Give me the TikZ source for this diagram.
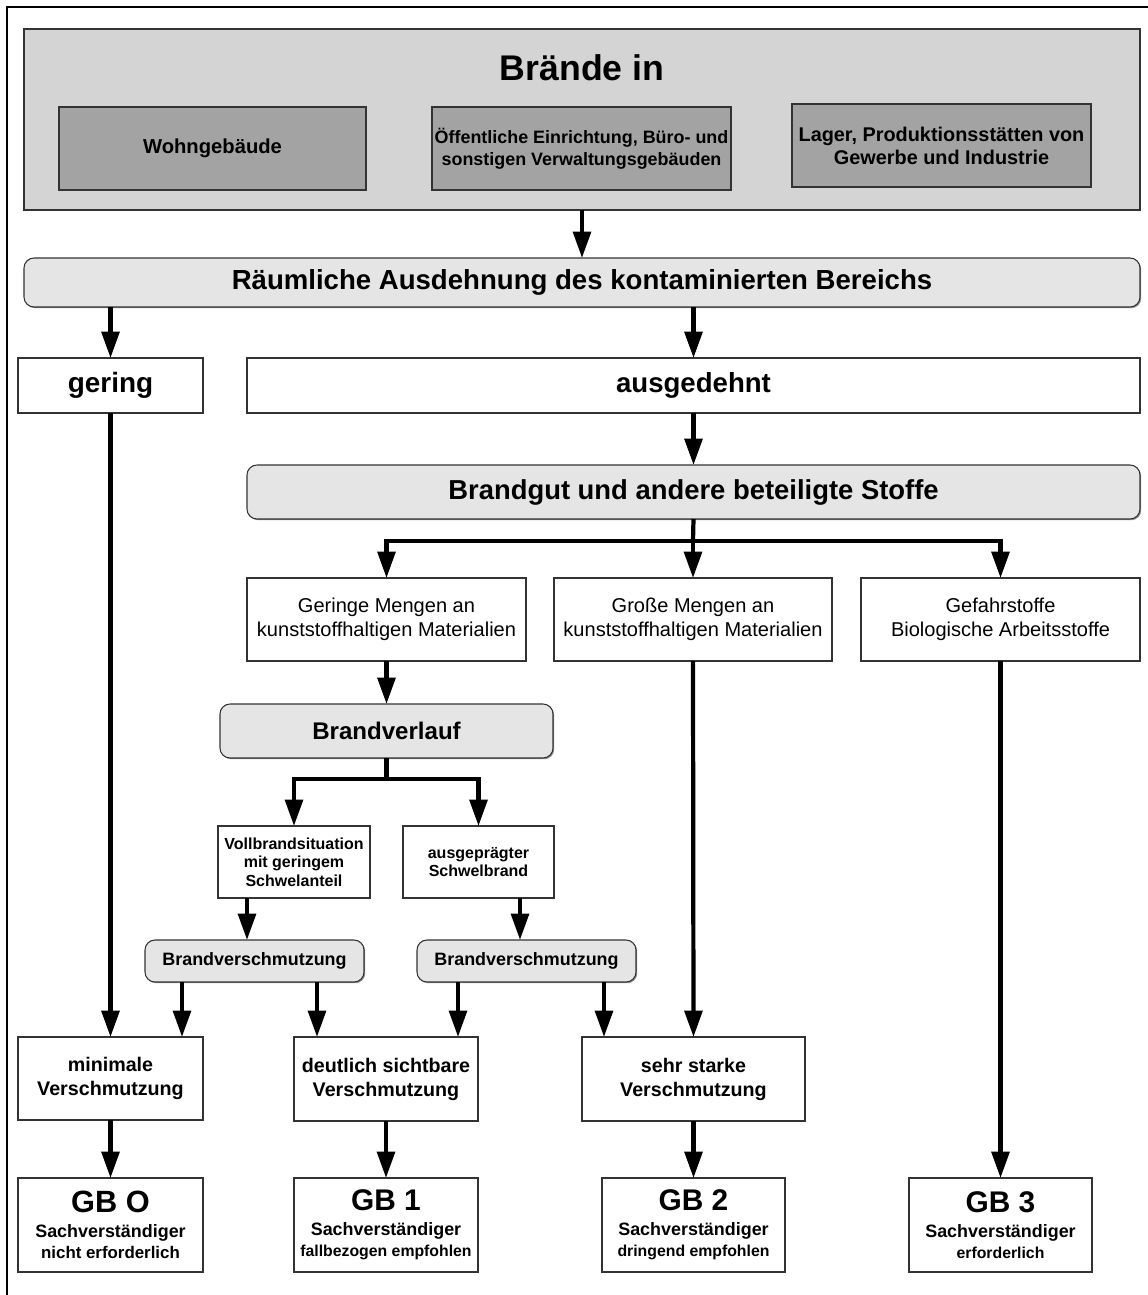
\documentclass[tikz,border=0pt]{standalone}
\usepackage{fontspec}
\setmainfont{Liberation Sans}
\usepackage{tikz}
\usetikzlibrary{arrows.meta,shadows}

\newcommand{\fs}[2]{\fontsize{#1}{#2}\selectfont}

\begin{document}
\begin{tikzpicture}[x=0.02cm,y=-0.02cm,
	sz/.style 2 args={minimum width=#1*0.02cm, minimum height=#2*0.02cm},
	box/.style={draw=black!80, line width=0.6pt, fill=white, inner sep=0pt, outer sep=0pt, align=center,
		general shadow={fill=black!45, shadow xshift=0.7pt, shadow yshift=-0.7pt}},
	rbox/.style={box, fill=black!10, rounded corners=0.2cm},
	grey/.style={draw=black!80, line width=0.6pt, inner sep=0pt, outer sep=0pt, align=center, fill=#1},
	thk/.style={line width=2.4pt},
	arr/.style={thk, -{Triangle[length=15pt,width=10pt]}}]
	\useasboundingbox (0,0) rectangle (1148,1295);
	% frame
	\draw[line width=0.8pt] (7,1300) -- (7,7) -- (1150,7);
	
	% buildings
	\node[grey=black!17, sz={1116}{181}] (top) at (582,119.5) {};
	\node (titel) at (582,68) {\fs{20.3}{24}\bfseries Brände in};
	\node[grey=black!36, sz={307}{83}] (wohn) at (212.5,148.5) {\fs{11.5}{13}\bfseries Wohngebäude};
	\node[grey=black!36, sz={299}{83}, font=\fs{10.2}{12.5}\bfseries] (oeff) at (581.5,148.5) {Öffentliche Einrichtung, Büro- und\\ sonstigen Verwaltungsgebäuden};
	\node[grey=black!36, sz={299}{83}, font=\fs{11.3}{13}\bfseries] (lager) at (941.5,145.5) {Lager, Produktionsstätten von\\ Gewerbe und Industrie};
	
	\node[rbox, sz={1116}{49}] (raum) at (582,282.5) {\fs{15.7}{18}\bfseries Räumliche Ausdehnung des kontaminierten Bereichs};
	\draw[arr] (top.south) -- (raum.north);
	
	\node[box, sz={185}{55}] (gering) at (110.5,385.5) {\fs{15.9}{18}\bfseries gering};
	\node[box, sz={893}{55}] (ausg) at (693.5,385.5) {\fs{15.7}{18}\bfseries ausgedehnt};
	\draw[arr] (raum.south -| gering.north) -- (gering.north);
	\draw[arr] (raum.south -| ausg.north) -- (ausg.north);
	
	\node[rbox, sz={893}{54}] (gut) at (693.5,492) {\fs{15.6}{18}\bfseries Brandgut und andere beteiligte Stoffe};
	\draw[arr] (ausg.south) -- (gut.north);
	
	% materials
	\node[box, sz={279}{83}, font=\fs{11.4}{13.6}] (wenig) at (386.5,619.5) {Geringe Mengen an\\ kunststoffhaltigen Materialien};
	\node[box, sz={278}{83}, font=\fs{11.4}{13.6}] (viel) at (693,619.5) {Große Mengen an\\ kunststoffhaltigen Materialien};
	\node[box, sz={279}{83}, font=\fs{11.4}{13.6}] (gefahr) at (1000.5,619.5) {Gefahrstoffe\\ Biologische Arbeitsstoffe};
	\coordinate (split1) at (693,541);
	\draw[thk] (gut.south) -- (split1);
	\draw[arr] (split1) -| (wenig.north);
	\draw[arr] (split1) -- (viel.north);
	\draw[arr] (split1) -| (gefahr.north);
	
	% Brandverlauf
	\node[rbox, sz={333}{54}] (verlauf) at (386.5,731) {\fs{13.7}{16}\bfseries Brandverlauf};
	\draw[arr] (wenig.south) -- (verlauf.north);
	\node[box, sz={152}{72}, font=\fs{9.1}{10.5}\bfseries] (voll) at (294,862) {Vollbrandsituation\\ mit geringem\\ Schwelanteil};
	\node[box, sz={151}{72}, font=\fs{9.1}{10.5}\bfseries] (schwel) at (478.5,862) {ausgeprägter\\ Schwelbrand};
	\coordinate (split2) at (386.5,779);
	\draw[thk] (verlauf.south) -- (split2);
	\draw[arr] (split2) -| (voll.north);
	\draw[arr] (split2) -| (schwel.north);
	
	\node[rbox, sz={219}{42}] (bv1) at (254.5,961) {\fs{10.2}{12}\bfseries Brandverschmutzung};
	\node[rbox, sz={219}{42}] (bv2) at (526.5,961) {\fs{10.2}{12}\bfseries Brandverschmutzung};
	\coordinate (la) at (247,0);
	\coordinate (lb) at (520,0);
	\draw[arr] (voll.south -| la) -- (bv1.north -| la);
	\draw[arr] (schwel.south -| lb) -- (bv2.north -| lb);
	
	% pollution
	\node[box, sz={185}{83}, font=\fs{11.2}{13.6}\bfseries] (minimal) at (110.5,1078.5) {minimale\\ Verschmutzung};
	\node[box, sz={184}{84}, font=\fs{11.2}{13.6}\bfseries] (deutlich) at (386,1079) {deutlich sichtbare\\ Verschmutzung};
	\node[box, sz={223}{84}, font=\fs{11.2}{13.6}\bfseries] (stark) at (693.5,1079) {sehr starke\\ Verschmutzung};
	\coordinate (lc) at (182,0);
	\coordinate (ld) at (317,0);
	\coordinate (le) at (458,0);
	\coordinate (lf) at (604,0);
	\draw[arr] (gering.south) -- (minimal.north);
	\draw[arr] (bv1.south -| lc) -- (minimal.north -| lc);
	\draw[arr] (bv1.south -| ld) -- (deutlich.north -| ld);
	\draw[arr] (bv2.south -| le) -- (deutlich.north -| le);
	\draw[arr] (bv2.south -| lf) -- (stark.north -| lf);
	\draw[arr] (viel.south) -- (stark.north);
	
	% Gefaehrdungsbereiche
	\node[box, sz={185}{94}, font=\bfseries] (gb0) at (110.5,1225) {\fs{17.5}{17}GB O\\[2pt] \fs{10.2}{12}Sachverständiger\\ \fs{9.6}{12}nicht erforderlich};
	\node[box, sz={184}{94}, font=\bfseries] (gb1) at (386,1225) {\fs{17}{17}GB 1\\[2pt] \fs{10.2}{12}Sachverständiger\\ \fs{9}{12}fallbezogen empfohlen};
	\node[box, sz={183}{94}, font=\bfseries] (gb2) at (693.5,1225) {\fs{17}{17}GB 2\\[2pt] \fs{10.2}{12}Sachverständiger\\ \fs{9}{12}dringend empfohlen};
	\node[box, sz={183}{94}, font=\bfseries] (gb3) at (1000.5,1225) {\fs{17}{17}GB 3\\[2pt] \fs{10.2}{12}Sachverständiger\\ \fs{9}{12}erforderlich};
	\draw[arr] (minimal.south) -- (gb0.north);
	\draw[arr] (deutlich.south) -- (gb1.north);
	\draw[arr] (stark.south) -- (gb2.north);
	\draw[arr] (gefahr.south) -- (gb3.north);
\end{tikzpicture}
\end{document}
